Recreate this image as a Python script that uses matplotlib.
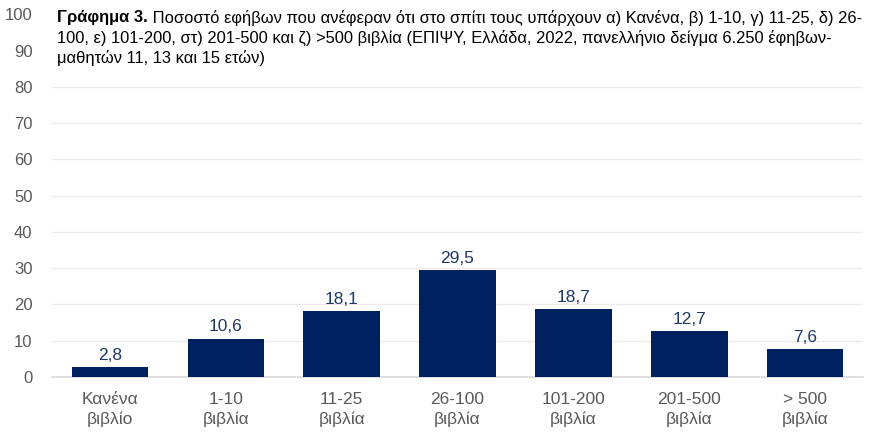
import matplotlib
matplotlib.use("Agg")
import matplotlib.pyplot as plt

categories = ["Κανένα\nβιβλίο", "1-10\nβιβλία", "11-25\nβιβλία", "26-100\nβιβλία",
              "101-200\nβιβλία", "201-500\nβιβλία", "> 500\nβιβλία"]
values = [2.8, 10.6, 18.1, 29.5, 18.7, 12.7, 7.6]
yticks = [0, 10, 20, 30, 40, 50, 60, 70, 80, 90, 100]

title_bold = "Γράφημα 3."
title_line1 = " Ποσοστό εφήβων που ανέφεραν ότι στο σπίτι τους υπάρχουν α) Κανένα, β) 1-10, γ) 11-25, δ) 26-"
title_rest = ("100, ε) 101-200, στ) 201-500 και ζ) >500 βιβλία (ΕΠΙΨΥ, Ελλάδα, 2022, πανελλήνιο δείγμα 6.250 έφηβων-\n"
              "μαθητών 11, 13 και 15 ετών)")

plt.rcParams['font.family'] = ['Liberation Sans', 'DejaVu Sans']

fig = plt.figure(figsize=(8.78, 4.32), dpi=100)
ax = fig.add_axes([0.0592, 0.1273, 0.9238, 0.8397])

x = list(range(len(categories)))
bars = ax.bar(x, values, width=0.66, color="#002060", zorder=3)
ax.bar_label(bars, labels=[f"{v:.1f}".replace(".", ",") for v in values],
             padding=3, color="#1F3864", fontsize=12.5)

ax.set_xlim(-0.5, len(categories) - 0.5)
ax.set_ylim(0, 100)
ax.set_yticks(yticks)
ax.set_xticks(x)
ax.set_xticklabels(categories, fontsize=12.5, color="#595959", linespacing=1.35)
ax.tick_params(axis='y', labelsize=12, labelcolor="#595959", length=0, pad=14)
ax.tick_params(axis='x', length=0, pad=11)
ax.yaxis.grid(True, color="#EBEBEB", linewidth=1, zorder=0)
ax.set_axisbelow(True)
for line, t in zip(ax.get_ygridlines(), yticks):
    if t > 80:
        line.set_visible(False)
for s in ["top", "right", "left"]:
    ax.spines[s].set_visible(False)
ax.spines["bottom"].set_color("#D9D9D9")
ax.spines["bottom"].set_linewidth(1.2)

tb = fig.text(57 / 878, 1 - 10 / 432, title_bold, fontsize=11.9, fontweight="bold",
              va="top", ha="left", color="#000000")
fig.canvas.draw()
ax.annotate(title_line1, xy=(1, 1), xycoords=tb, va="top", ha="left",
            fontsize=11.9, color="#000000", annotation_clip=False)
fig.text(57 / 878, 1 - 30 / 432, title_rest, fontsize=11.9, va="top", ha="left",
         color="#000000", linespacing=1.3)

fig.savefig("out.png", dpi=100)
